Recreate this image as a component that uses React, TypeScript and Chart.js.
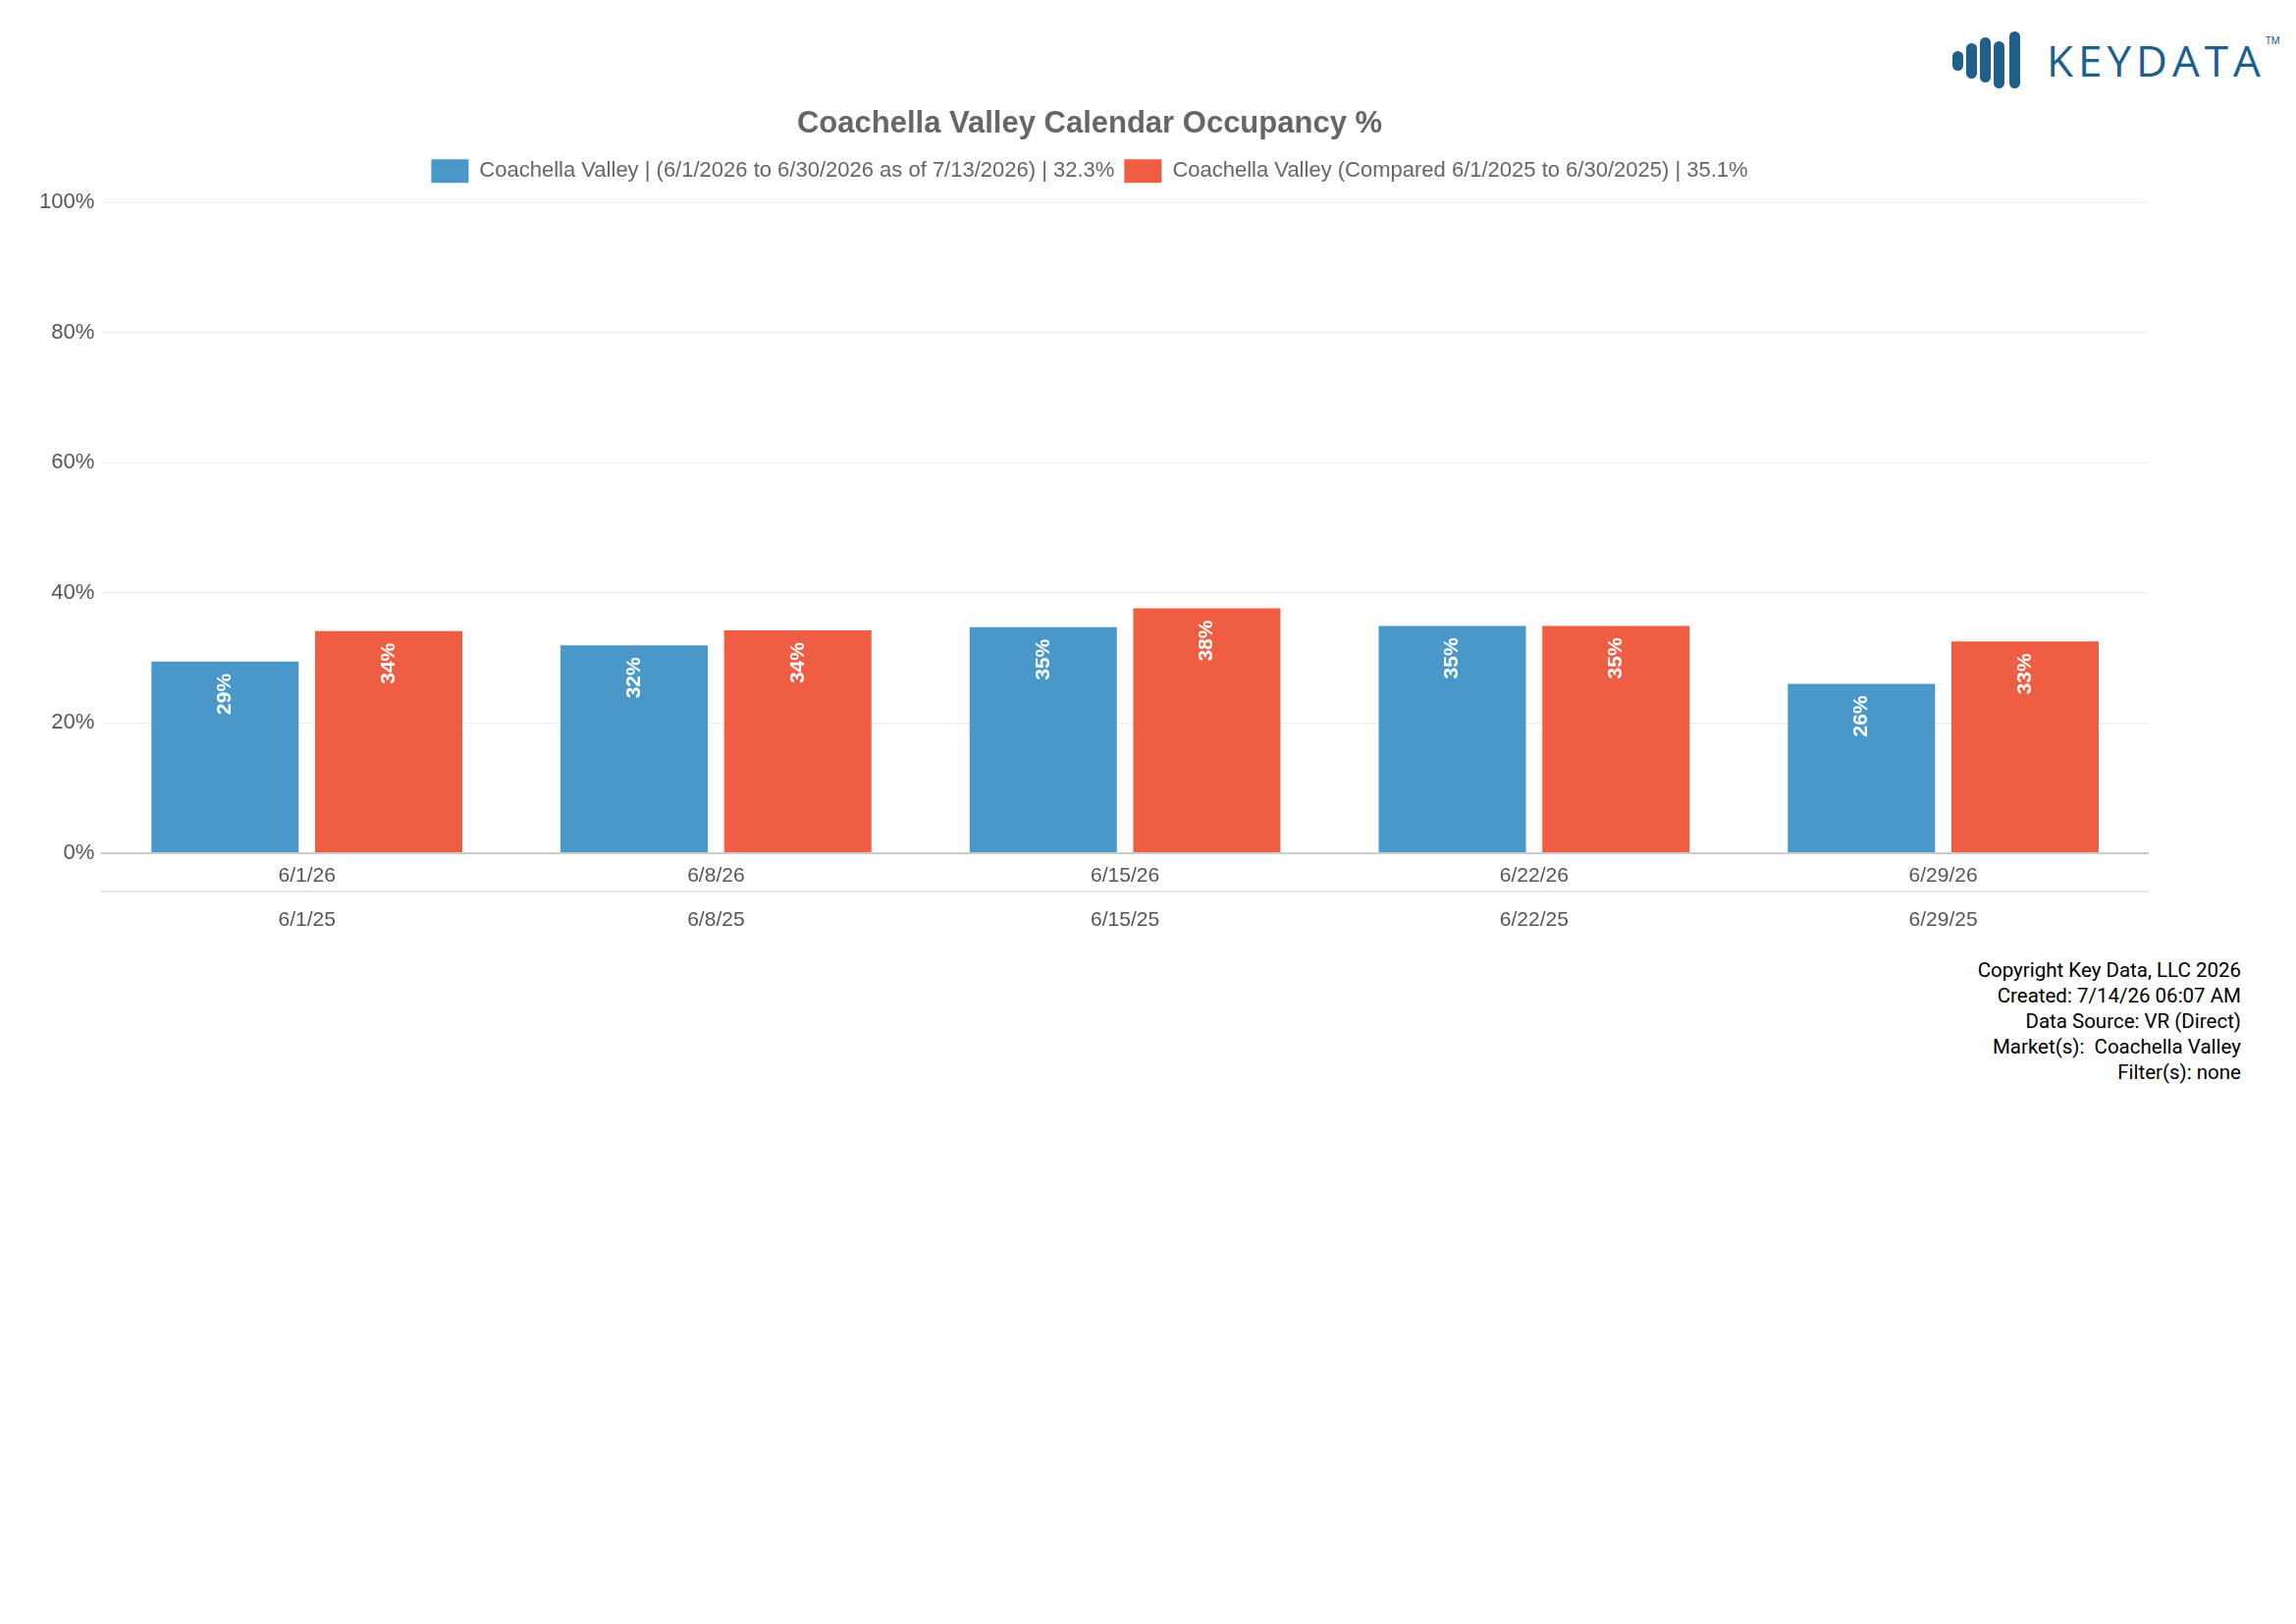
import React, { useEffect, useRef } from "react";
import { Chart, registerables } from "chart.js";
Chart.register(...registerables);

const categories = ["6/1/26", "6/8/26", "6/15/26", "6/22/26", "6/29/26"];
const compareCategories = ["6/1/25", "6/8/25", "6/15/25", "6/22/25", "6/29/25"];
const current = [29.4, 31.9, 34.7, 34.9, 26.0];
const previous = [34.1, 34.2, 37.6, 34.9, 32.5];
const currentLabel = "Coachella Valley | (6/1/2026 to 6/30/2026 as of 7/13/2026) | 32.3%";
const previousLabel = "Coachella Valley (Compared 6/1/2025 to 6/30/2025) | 35.1%";
const footer = ["Copyright Key Data, LLC 2026", "Created: 7/14/26 06:07 AM", "Data Source: VR (Direct)", "Market(s):  Coachella Valley", "Filter(s): none"];

const FONT = "'Liberation Sans', Arial, sans-serif";

const labelPlugin = {
  id: "barLabels",
  beforeInit(chart: any) {
    const lg = chart.legend;
    if (lg) {
      const f = lg.fit;
      lg.fit = function () { f.call(lg); lg.height += 10; };
    }
  },
  afterDatasetsDraw(chart: any) {
    const ctx = chart.ctx;
    chart.data.datasets.forEach((ds: any, i: number) => {
      chart.getDatasetMeta(i).data.forEach((bar: any, j: number) => {
        const txt = Math.round(ds.data[j]) + "%";
        ctx.save();
        ctx.translate(bar.x, bar.y + 12);
        ctx.rotate(-Math.PI / 2);
        ctx.font = "bold 21px " + FONT;
        ctx.fillStyle = "#fff";
        ctx.textAlign = "right";
        ctx.textBaseline = "middle";
        ctx.fillText(txt, 0, 0);
        ctx.restore();
      });
    });
  },
};

export default function App() {
  const ref = useRef<HTMLCanvasElement>(null);
  useEffect(() => {
    const chart = new Chart(ref.current!, {
      type: "bar",
      data: {
        labels: categories,
        datasets: [
          { label: currentLabel, data: current, backgroundColor: "#4a98c9", categoryPercentage: 0.8, barPercentage: 0.9 },
          { label: previousLabel, data: previous, backgroundColor: "#ef5e42", categoryPercentage: 0.8, barPercentage: 0.9 },
        ],
      },
      options: {
        animation: false,
        responsive: true,
        maintainAspectRatio: false,
        layout: { padding: { left: 32, right: 32, top: 0, bottom: 0 } },
        plugins: {
          title: { display: true, text: "Coachella Valley Calendar Occupancy %", color: "#666", font: { family: FONT, size: 31, weight: "bold" }, padding: { top: 0, bottom: 7 } },
          legend: { labels: { color: "#666", font: { family: FONT, size: 22 }, boxWidth: 38, boxHeight: 24, padding: 10 } },
          tooltip: { enabled: false },
        },
        scales: {
          x: {
            grid: { display: false },
            border: { color: "#ccc", width: 2 },
            ticks: { color: "#555", font: { family: FONT, size: 21 }, padding: 3 },
          },
          x2: {
            type: "category",
            labels: compareCategories,
            position: "bottom",
            grid: { display: false },
            border: { color: "#e6e6e6", width: 2 },
            ticks: { color: "#555", font: { family: FONT, size: 21 }, padding: 9 },
          },
          y: {
            min: 0, max: 100,
            ticks: { stepSize: 20, callback: (v: any) => v + "%", color: "#555", font: { family: FONT, size: 22 }, padding: 8 },
            grid: { color: "#ececec", drawTicks: false },
            border: { display: false },
          },
        },
      },
      plugins: [labelPlugin],
    } as any);
    return () => chart.destroy();
  }, []);
  return (
    <div style={{ position: "fixed", left: 0, top: 0, width: 2339, height: 1654, background: "#fff", fontFamily: "Roboto, sans-serif" }}>
      <div style={{ position: "absolute", left: 1985, top: 30, display: "flex", alignItems: "center" }}>
        <svg width="90" height="62" viewBox="0 0 90 62">
          {[[4, 22, 20], [18, 14, 36], [32, 8, 46], [46, 12, 48], [62, 2, 58]].map(([x, y, h], i) => (
            <rect key={i} x={x} y={y} width="11" height={h} rx="5.5" fill="#1f5f8b" />
          ))}
        </svg>
        <span style={{ fontFamily: "'Open Sans', sans-serif", fontSize: 44, letterSpacing: 5, color: "#1f5f8b", marginLeft: 10 }}>KEYDATA</span>
        <span style={{ fontSize: 10, color: "#1f5f8b", alignSelf: "flex-start", marginTop: 6 }}>TM</span>
      </div>
      <div style={{ position: "absolute", left: 0, top: 108, width: 2220, height: 851 }}>
        <canvas ref={ref} />
      </div>
      <div style={{ position: "absolute", right: 56, top: 975, textAlign: "right", fontSize: 20.5, lineHeight: "26px", color: "#000" }}>
        {footer.map((l, i) => <div key={i} style={{ whiteSpace: "pre" }}>{l}</div>)}
      </div>
    </div>
  );
}
